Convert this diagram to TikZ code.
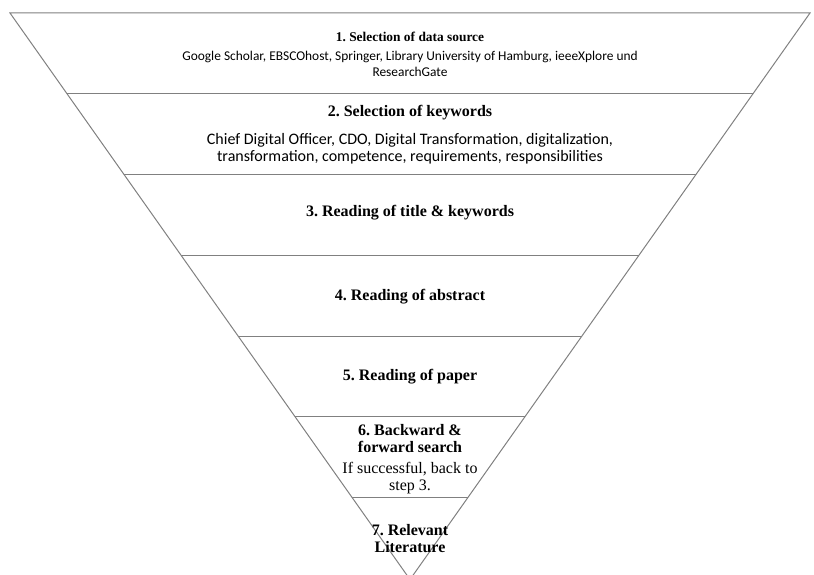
\documentclass[tikz,border=0pt]{standalone}
\usepackage{fontspec}
\setmainfont{Liberation Serif}
\newfontfamily\calfont{Carlito}
\usetikzlibrary{calc}
\definecolor{edge}{RGB}{128,128,128}
\frenchspacing
\tikzset{
  funnel/.style={draw=edge, line width=1pt},
  title/.style={font=\frenchspacing\bfseries\fontsize{16}{17}\selectfont, align=center, inner sep=0pt},
  smalltitle/.style={font=\frenchspacing\bfseries\fontsize{13.4}{15}\selectfont, align=center, inner sep=0pt},
  body/.style={font=\frenchspacing\calfont\fontsize{16}{16.5}\selectfont, align=center, inner sep=0pt},
  smallbody/.style={font=\frenchspacing\calfont\fontsize{13.4}{16}\selectfont, align=center, inner sep=0pt},
  note/.style={font=\frenchspacing\fontsize{16}{17}\selectfont, align=center, inner sep=0pt}
}
\begin{document}
\begin{tikzpicture}[x=1pt,y=-1pt]
\useasboundingbox (0,0) rectangle (814,575);
\begin{scope}
\clip (0,0) rectangle (814,575);
\coordinate (TL) at (10,13);
\coordinate (TR) at (810,13);
\coordinate (A) at (410,579.5);
\draw[funnel, line join=miter] (TL) -- (TR) -- (A) -- cycle;
\foreach \k in {1,...,6}{
  \pgfmathsetmacro{\t}{0.14263*\k}
  \draw[funnel] ($(TL)!\t!(A)$) -- ($(TR)!\t!(A)$);
}
\end{scope}
\node[smalltitle] (s1) at (410,37) {1. Selection of data source};
\node[smallbody] (s1b) at (410,64) {Google Scholar, EBSCOhost, Springer, Library University of Hamburg, ieeeXplore und\\ResearchGate};
\node[title] (s2) at (410,113) {2. Selection of keywords};
\node[body] (s2b) at (410,148.5) {Chief Digital Officer, CDO, Digital Transformation, digitalization,\\transformation, competence, requirements, responsibilities};
\node[title] (s3) at (410,213) {3. Reading of title \& keywords};
\node[title] (s4) at (410,297) {4. Reading of abstract};
\node[title] (s5) at (410,377) {5. Reading of paper};
\node[title] (s6) at (410,438.5) {6. Backward \&\\forward search};
\node[note] (s6b) at (410,478.5) {If successful, back to\\step 3.};
\node[title] (s7) at (410,539) {7. Relevant\\Literature};
\end{tikzpicture}
\end{document}
